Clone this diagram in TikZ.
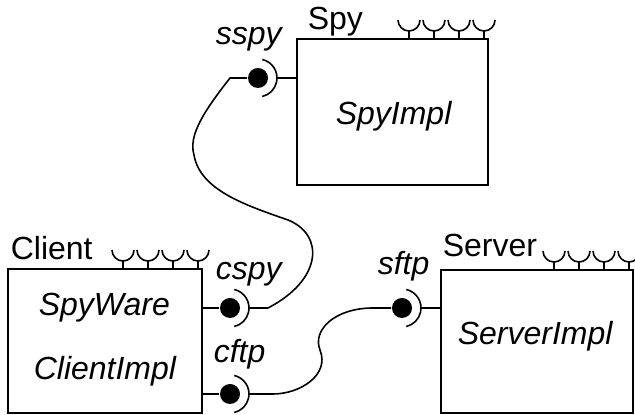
\documentclass[tikz,border=0pt]{standalone}
\usepackage{fontspec}
\setmainfont{Liberation Sans}
\usetikzlibrary{shapes}
\tikzstyle{comp}=[rectangle,draw=black,line width=1pt,inner sep=0pt]
\tikzstyle{ball}=[circle,fill=black,inner sep=0pt,minimum size=10pt]
\tikzstyle{lbl}=[anchor=base west,inner sep=0pt,font=\fontsize{16}{19}\selectfont]
\tikzstyle{ilbl}=[lbl,font=\fontsize{16}{19}\selectfont\itshape]

\begin{document}
\begin{tikzpicture}[x=0.5pt,y=0.5pt,line width=0.8pt]
	\useasboundingbox (0,0) rectangle (635,415);
	% components
	\node[comp,minimum width=95.5pt,minimum height=73pt] (spy) at (392.5,303) {};
	\node[comp,minimum width=97pt,minimum height=72pt] (client) at (105,74) {};
	\node[comp,minimum width=96pt,minimum height=71.5pt] (server) at (537,73.5) {};
	% component names
	\node[lbl] (spyname) at (307,385) {Spy};
	\node[lbl] (clientname) at (10,155) {Client};
	\node[lbl] (servername) at (442,158) {Server};
	\node[ilbl] (spyimpl) at (335,290) {SpyImpl};
	\node[ilbl] (spyware) at (38,99) {SpyWare};
	\node[ilbl] (clientimpl) at (33,35) {ClientImpl};
	\node[ilbl] (serverimpl) at (457,70) {ServerImpl};
	% small ports on top
	\foreach \b in {spy,client,server}
	\foreach \d in {80,55,30,5}
	\draw (\b.north east) ++(-\d,0) -- ++(0,7) ++(-11,11) arc[start angle=180,end angle=360,radius=11];
	% balls
	\node[ball] (sspy) at (258,337) {};
	\node[ball] (cspy) at (230,107) {};
	\node[ball] (cftp) at (230,21) {};
	\node[ball] (sftp) at (402,107) {};
	\node[ilbl] (sspylbl) at (215,370) {sspy};
	\node[ilbl] (cspylbl) at (215,135) {cspy};
	\node[ilbl] (cftplbl) at (213,52) {cftp};
	\node[ilbl] (sftplbl) at (377,140) {sftp};
	% sockets
	\foreach \p in {sspy,cspy,cftp,sftp}
	\draw (\p.center) ++(77:19) arc[start angle=77,end angle=-77,radius=19];
	% stubs to the boxes
	\draw ([xshift=9.5pt]sspy.center) -- (sspy -| spy.west);
	\draw ([xshift=9.5pt]sftp.center) -- (sftp -| server.west);
	\draw (client.east |- cspy) -- (cspy);
	\draw (client.east |- cftp) -- (cftp);
	% connectors
	\draw (sspy) -- (230,337) .. controls (205,305) and (188,280) .. (194,260)
		.. controls (200,225) and (245,210) .. (288,195)
		.. controls (325,180) and (322,135) .. (268,107) -- ([xshift=9.5pt]cspy.center);
	\draw ([xshift=9.5pt]cftp.center) -- (273,21) .. controls (300,21) and (330,40) .. (320,65)
		.. controls (312,85) and (335,107) .. (373,107) -- (sftp);
\end{tikzpicture}
\end{document}
